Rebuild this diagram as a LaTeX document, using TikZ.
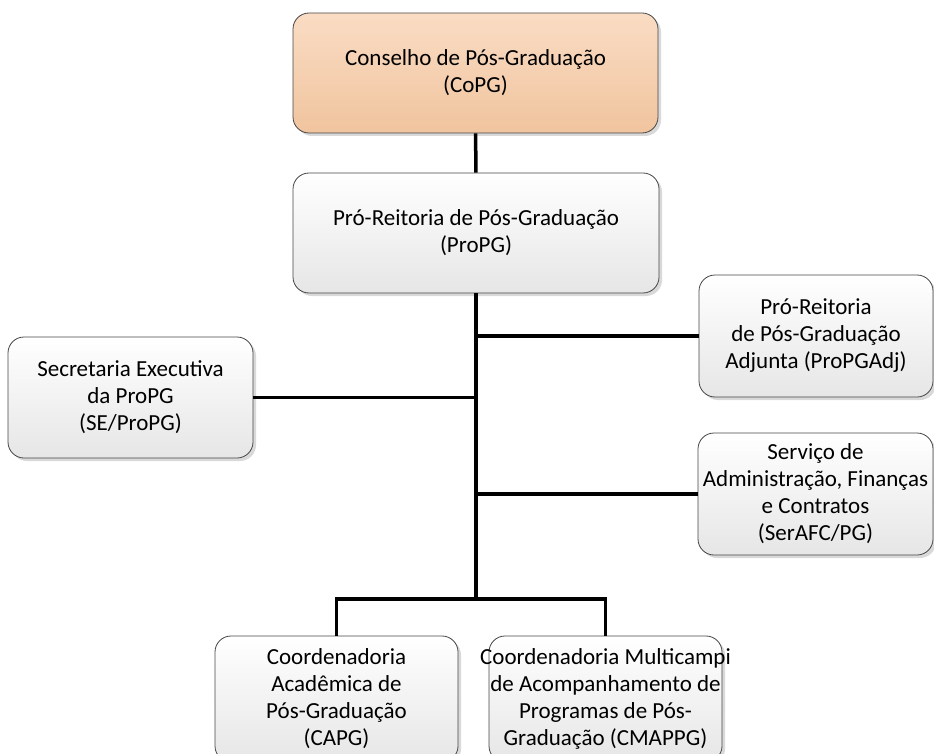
\documentclass[tikz,border=0pt]{standalone}
\usepackage{fontspec}
\setmainfont{Carlito}
\usetikzlibrary{shadows}
\definecolor{peachtop}{RGB}{250,220,196}
\definecolor{peachbot}{RGB}{240,196,158}
\definecolor{greybot}{RGB}{230,230,230}
\definecolor{rim}{RGB}{70,70,70}
\begin{document}
\begin{tikzpicture}[x=1pt, y=-1pt,
  unit/.style={rectangle, rounded corners=16pt, draw=rim, line width=0.8pt,
    align=center, inner sep=0pt, font=\fontsize{23}{27}\selectfont,
    top color=white, bottom color=greybot,
    drop shadow={shadow xshift=3pt, shadow yshift=-3pt, fill=black!25, opacity=0.6}},
  council/.style={unit, top color=peachtop, bottom color=peachbot},
  link/.style={line width=3.5pt}]
\useasboundingbox (0,0) rectangle (934,754);
% boxes
\node [council, minimum width=365pt, minimum height=120pt] (copg) at (475.5,73)
  {Conselho de Pós-Graduação\\(CoPG)};
\node [unit, minimum width=366pt, minimum height=120pt] (propg) at (476,233)
  {Pró-Reitoria de Pós-Graduação\\(ProPG)};
\node [unit, minimum width=234pt, minimum height=122pt] (adj) at (816,336)
  {Pró-Reitoria\\de Pós-Graduação\\Adjunta (ProPGAdj)};
\node [unit, minimum width=245pt, minimum height=121pt] (se) at (130.5,397.5)
  {Secretaria Executiva\\da ProPG\\(SE/ProPG)};
\node [unit, minimum width=235pt, minimum height=122pt] (serafc) at (815.5,494)
  {Serviço de\\\makebox[225pt]{Administração, Finanças}\\e Contratos\\(SerAFC/PG)};
\node [unit, minimum width=243pt, minimum height=126pt] (capg) at (336.5,699)
  {Coordenadoria\\Acadêmica de\\Pós-Graduação\\(CAPG)};
\node [unit, minimum width=233pt, minimum height=126pt] (cmappg) at (605.5,699)
  {\makebox[225pt]{Coordenadoria Multicampi}\\de Acompanhamento de\\Programas de Pós-\\Graduação (CMAPPG)};
% junctions on the trunk
\coordinate (jadj) at (propg.south |- adj.west);
\coordinate (jse) at (propg.south |- se.east);
\coordinate (jser) at (propg.south |- serafc.west);
\coordinate (split) at (476,599);
% connectors
\draw [link] (copg) -- (propg);
\draw [link] (propg.south) -- (split);
\draw [link] (jadj) -- (adj.west);
\draw [link] (jse) -- (se.east);
\draw [link] (jser) -- (serafc.west);
\draw [link] (split) -| (capg.north);
\draw [link] (split) -| (cmappg.north);
\end{tikzpicture}
\end{document}
